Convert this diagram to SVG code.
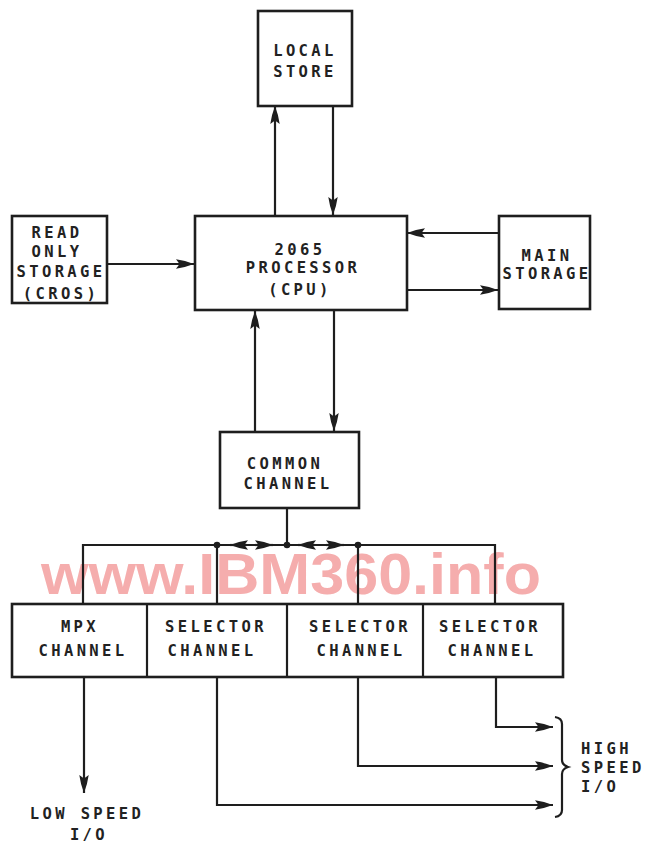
<svg xmlns="http://www.w3.org/2000/svg" width="650" height="846" viewBox="0 0 650 846">
<style>
.box{fill:#fff;stroke:#1e1e1e;stroke-width:2.6}
.ln{fill:none;stroke:#1e1e1e;stroke-width:2.2}
.t{font-family:"DejaVu Sans Mono",monospace;font-size:15.5px;font-weight:bold;letter-spacing:3.4px;fill:#222;text-anchor:middle}
.tl{font-family:"DejaVu Sans Mono",monospace;font-size:15.5px;font-weight:bold;letter-spacing:3.4px;fill:#222}
.wm{font-family:"Liberation Sans",Arial,sans-serif;font-size:58px;font-weight:bold;fill:#f5adad}
</style>
<defs>
<marker id="ah" viewBox="0 0 18 11" refX="18" refY="5.5" markerWidth="18" markerHeight="11" markerUnits="userSpaceOnUse" orient="auto">
<path d="M18,5.5 Q9,2 0,0.8 L3.5,5.5 L0,10.2 Q9,9 18,5.5 Z" fill="#1e1e1e"/>
</marker>
</defs>
<rect width="650" height="846" fill="#fff"/>
<text class="wm" x="41" y="594" textLength="500" lengthAdjust="spacingAndGlyphs">www.IBM360.info</text>

<g id="connectors">
<line class="ln" x1="275" y1="216" x2="275" y2="106" marker-end="url(#ah)"/>
<line class="ln" x1="333" y1="106" x2="333" y2="215" marker-end="url(#ah)"/>
<line class="ln" x1="108" y1="264" x2="194" y2="264" marker-end="url(#ah)"/>
<line class="ln" x1="499" y1="233" x2="407" y2="233" marker-end="url(#ah)"/>
<line class="ln" x1="407" y1="290" x2="498" y2="290" marker-end="url(#ah)"/>
<line class="ln" x1="255" y1="432" x2="255" y2="311" marker-end="url(#ah)"/>
<line class="ln" x1="334" y1="310" x2="334" y2="431" marker-end="url(#ah)"/>
<line class="ln" x1="287" y1="508" x2="287" y2="545"/>
<polyline class="ln" points="83,604 83,545 495,545 495,604"/>
<line class="ln" x1="217" y1="545" x2="217" y2="604"/>
<line class="ln" x1="358" y1="545" x2="358" y2="604"/>
<line class="ln" x1="247" y1="545" x2="230" y2="545" marker-end="url(#ah)"/>
<line class="ln" x1="255" y1="545" x2="273" y2="545" marker-end="url(#ah)"/>
<line class="ln" x1="315" y1="545" x2="298" y2="545" marker-end="url(#ah)"/>
<line class="ln" x1="326" y1="545" x2="344" y2="545" marker-end="url(#ah)"/>
<circle cx="217" cy="545" r="3.3" fill="#1e1e1e"/>
<circle cx="287" cy="545" r="3.3" fill="#1e1e1e"/>
<circle cx="358" cy="545" r="3.3" fill="#1e1e1e"/>
<line class="ln" x1="84" y1="678" x2="84" y2="793" marker-end="url(#ah)"/>
<polyline class="ln" points="217,678 217,805 553,805" marker-end="url(#ah)"/>
<polyline class="ln" points="358,678 358,766 553,766" marker-end="url(#ah)"/>
<polyline class="ln" points="496,678 496,727 553,727" marker-end="url(#ah)"/>
<path class="ln" d="M555,717 Q562,718 562,724 L562,760 Q562,765 568,767 Q562,769 562,774 L562,810 Q562,816 555,817"/>
</g>

<g id="local-store">
<rect class="box" x="258" y="11" width="94" height="95"/>
<text class="t" x="305" y="56">LOCAL</text>
<text class="t" x="305" y="77">STORE</text>
</g>

<g id="ros">
<rect class="box" x="12" y="216" width="95" height="87"/>
<text class="t" x="57" y="238">READ</text>
<text class="t" x="57" y="257">ONLY</text>
<text class="t" x="61" y="277">STORAGE</text>
<text class="t" x="61" y="299">(CROS)</text>
</g>

<g id="cpu">
<rect class="box" x="195" y="216" width="212" height="94"/>
<text class="t" x="300" y="255">2065</text>
<text class="t" x="303" y="273">PROCESSOR</text>
<text class="t" x="300" y="295">(CPU)</text>
</g>

<g id="main-storage">
<rect class="box" x="499" y="216" width="91" height="93"/>
<text class="t" x="547" y="261">MAIN</text>
<text class="t" x="547" y="279">STORAGE</text>
</g>

<g id="common-channel">
<rect class="box" x="220" y="432" width="139" height="76"/>
<text class="t" x="285" y="469">COMMON</text>
<text class="t" x="288" y="489">CHANNEL</text>
</g>

<g id="channels">
<rect class="box" x="12" y="604" width="551" height="73"/>
<line class="ln" x1="147" y1="604" x2="147" y2="677" stroke-width="2.6"/>
<line class="ln" x1="287" y1="604" x2="287" y2="677" stroke-width="2.6"/>
<line class="ln" x1="423" y1="604" x2="423" y2="677" stroke-width="2.6"/>
</g>
<g id="mpx-channel">
<text class="t" x="80" y="632">MPX</text>
<text class="t" x="83" y="656">CHANNEL</text>
</g>
<g id="selector-channel-1">
<text class="t" x="216" y="632">SELECTOR</text>
<text class="t" x="212" y="656">CHANNEL</text>
</g>
<g id="selector-channel-2">
<text class="t" x="360" y="632">SELECTOR</text>
<text class="t" x="361" y="656">CHANNEL</text>
</g>
<g id="selector-channel-3">
<text class="t" x="490" y="632">SELECTOR</text>
<text class="t" x="492" y="656">CHANNEL</text>
</g>

<g id="low-speed-io">
<text class="t" x="87" y="819">LOW SPEED</text>
<text class="t" x="89" y="840">I/O</text>
</g>
<g id="high-speed-io">
<text class="tl" x="581" y="754">HIGH</text>
<text class="tl" x="581" y="773">SPEED</text>
<text class="tl" x="581" y="792">I/O</text>
</g>
</svg>
